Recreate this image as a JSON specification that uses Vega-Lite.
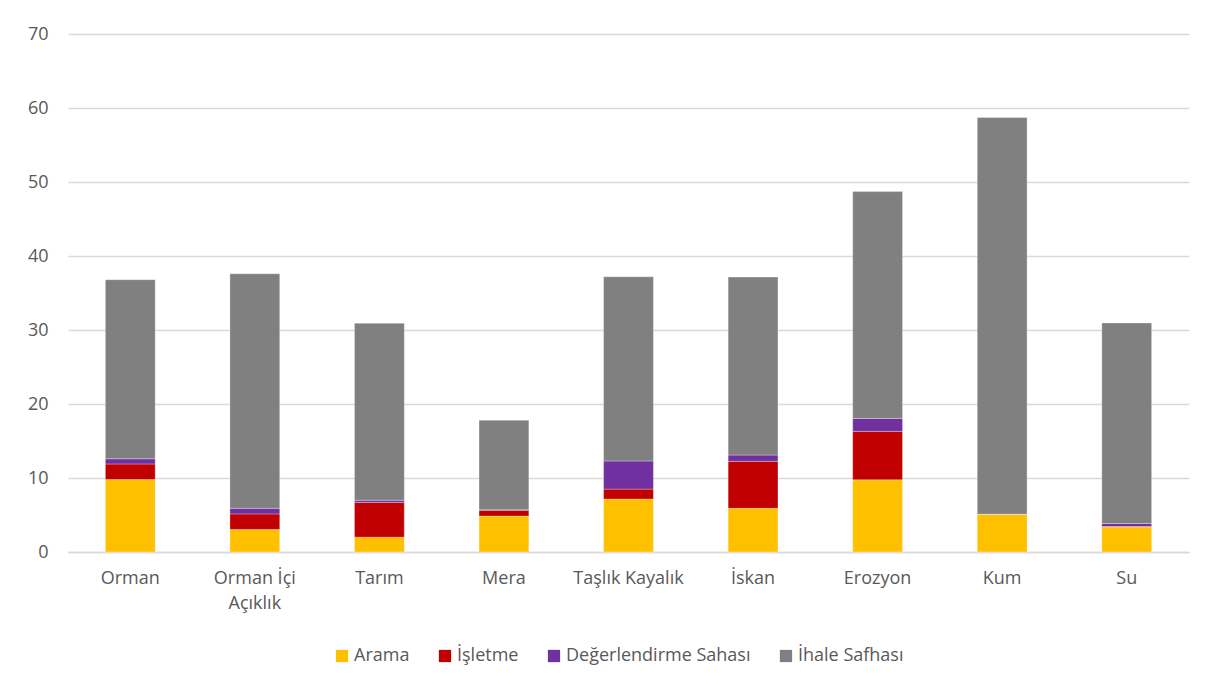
{
  "$schema": "https://vega.github.io/schema/vega-lite/v6.json",
  "width": 1121,
  "height": 518,
  "autosize": {"type": "none"},
  "padding": {"left": 68, "top": 34, "right": 30, "bottom": 141},
  "background": "white",
  "data": {
    "values": [
      {"kategori": "Orman", "seri": "Arama", "sira": 1, "deger": 9.8},
      {"kategori": "Orman", "seri": "İşletme", "sira": 2, "deger": 2.1},
      {"kategori": "Orman", "seri": "Değerlendirme Sahası", "sira": 3, "deger": 0.7},
      {"kategori": "Orman", "seri": "İhale Safhası", "sira": 4, "deger": 24.2},
      {"kategori": "Orman İçi Açıklık", "seri": "Arama", "sira": 1, "deger": 3.05},
      {"kategori": "Orman İçi Açıklık", "seri": "İşletme", "sira": 2, "deger": 2.1},
      {"kategori": "Orman İçi Açıklık", "seri": "Değerlendirme Sahası", "sira": 3, "deger": 0.75},
      {"kategori": "Orman İçi Açıklık", "seri": "İhale Safhası", "sira": 4, "deger": 31.7},
      {"kategori": "Tarım", "seri": "Arama", "sira": 1, "deger": 2.0},
      {"kategori": "Tarım", "seri": "İşletme", "sira": 2, "deger": 4.7},
      {"kategori": "Tarım", "seri": "Değerlendirme Sahası", "sira": 3, "deger": 0.3},
      {"kategori": "Tarım", "seri": "İhale Safhası", "sira": 4, "deger": 23.9},
      {"kategori": "Mera", "seri": "Arama", "sira": 1, "deger": 4.85},
      {"kategori": "Mera", "seri": "İşletme", "sira": 2, "deger": 0.8},
      {"kategori": "Mera", "seri": "Değerlendirme Sahası", "sira": 3, "deger": 0.05},
      {"kategori": "Mera", "seri": "İhale Safhası", "sira": 4, "deger": 12.1},
      {"kategori": "Taşlık Kayalık", "seri": "Arama", "sira": 1, "deger": 7.15},
      {"kategori": "Taşlık Kayalık", "seri": "İşletme", "sira": 2, "deger": 1.35},
      {"kategori": "Taşlık Kayalık", "seri": "Değerlendirme Sahası", "sira": 3, "deger": 3.8},
      {"kategori": "Taşlık Kayalık", "seri": "İhale Safhası", "sira": 4, "deger": 24.9},
      {"kategori": "İskan", "seri": "Arama", "sira": 1, "deger": 5.9},
      {"kategori": "İskan", "seri": "İşletme", "sira": 2, "deger": 6.35},
      {"kategori": "İskan", "seri": "Değerlendirme Sahası", "sira": 3, "deger": 0.85},
      {"kategori": "İskan", "seri": "İhale Safhası", "sira": 4, "deger": 24.05},
      {"kategori": "Erozyon", "seri": "Arama", "sira": 1, "deger": 9.75},
      {"kategori": "Erozyon", "seri": "İşletme", "sira": 2, "deger": 6.55},
      {"kategori": "Erozyon", "seri": "Değerlendirme Sahası", "sira": 3, "deger": 1.75},
      {"kategori": "Erozyon", "seri": "İhale Safhası", "sira": 4, "deger": 30.65},
      {"kategori": "Kum", "seri": "Arama", "sira": 1, "deger": 5.1},
      {"kategori": "Kum", "seri": "İşletme", "sira": 2, "deger": 0},
      {"kategori": "Kum", "seri": "Değerlendirme Sahası", "sira": 3, "deger": 0},
      {"kategori": "Kum", "seri": "İhale Safhası", "sira": 4, "deger": 53.6},
      {"kategori": "Su", "seri": "Arama", "sira": 1, "deger": 3.4},
      {"kategori": "Su", "seri": "İşletme", "sira": 2, "deger": 0.05},
      {"kategori": "Su", "seri": "Değerlendirme Sahası", "sira": 3, "deger": 0.4},
      {"kategori": "Su", "seri": "İhale Safhası", "sira": 4, "deger": 27.1}
    ]
  },
  "mark": {"type": "bar", "stroke": "white", "strokeWidth": 0.5, "strokeOpacity": 0.6},
  "encoding": {
    "x": {
      "field": "kategori",
      "type": "nominal",
      "sort": ["Orman", "Orman İçi Açıklık", "Tarım", "Mera", "Taşlık Kayalık", "İskan", "Erozyon", "Kum", "Su"],
      "scale": {"paddingInner": 0.6, "paddingOuter": 0.3},
      "axis": {
        "title": null,
        "labelAngle": 0,
        "labelExpr": "datum.label == 'Orman İçi Açıklık' ? ['Orman İçi', 'Açıklık'] : datum.label",
        "labelFont": "Open Sans",
        "labelFontSize": 18,
        "labelColor": "#595959",
        "labelPadding": 17,
        "labelLineHeight": 25,
        "labelBaseline": "top",
        "labelLimit": 0,
        "ticks": false,
        "domainColor": "#d9d9d9",
        "domainWidth": 1.5,
        "grid": false
      }
    },
    "y": {
      "field": "deger",
      "type": "quantitative",
      "stack": "zero",
      "scale": {"domain": [0, 70], "nice": false},
      "axis": {
        "title": null,
        "values": [0, 10, 20, 30, 40, 50, 60, 70],
        "labelFont": "Open Sans",
        "labelFontSize": 18,
        "labelColor": "#595959",
        "labelPadding": 20,
        "ticks": false,
        "domain": false,
        "gridColor": "#d9d9d9",
        "gridWidth": 1.3
      }
    },
    "color": {
      "field": "seri",
      "type": "nominal",
      "sort": ["Arama", "İşletme", "Değerlendirme Sahası", "İhale Safhası"],
      "scale": {
        "domain": ["Arama", "İşletme", "Değerlendirme Sahası", "İhale Safhası"],
        "range": ["#FFC000", "#C00000", "#7030A0", "#808080"]
      },
      "legend": {
        "title": null,
        "orient": "none",
        "legendX": 265,
        "legendY": 613,
        "direction": "horizontal",
        "symbolType": "square",
        "symbolSize": 150,
        "symbolStrokeWidth": 0,
        "labelFont": "Open Sans",
        "labelFontSize": 18,
        "labelColor": "#595959",
        "labelLimit": 0,
        "labelOffset": 3,
        "columnPadding": 26
      }
    },
    "order": {"field": "sira", "type": "quantitative", "sort": "ascending"}
  },
  "config": {
    "view": {"stroke": null}
  }
}
